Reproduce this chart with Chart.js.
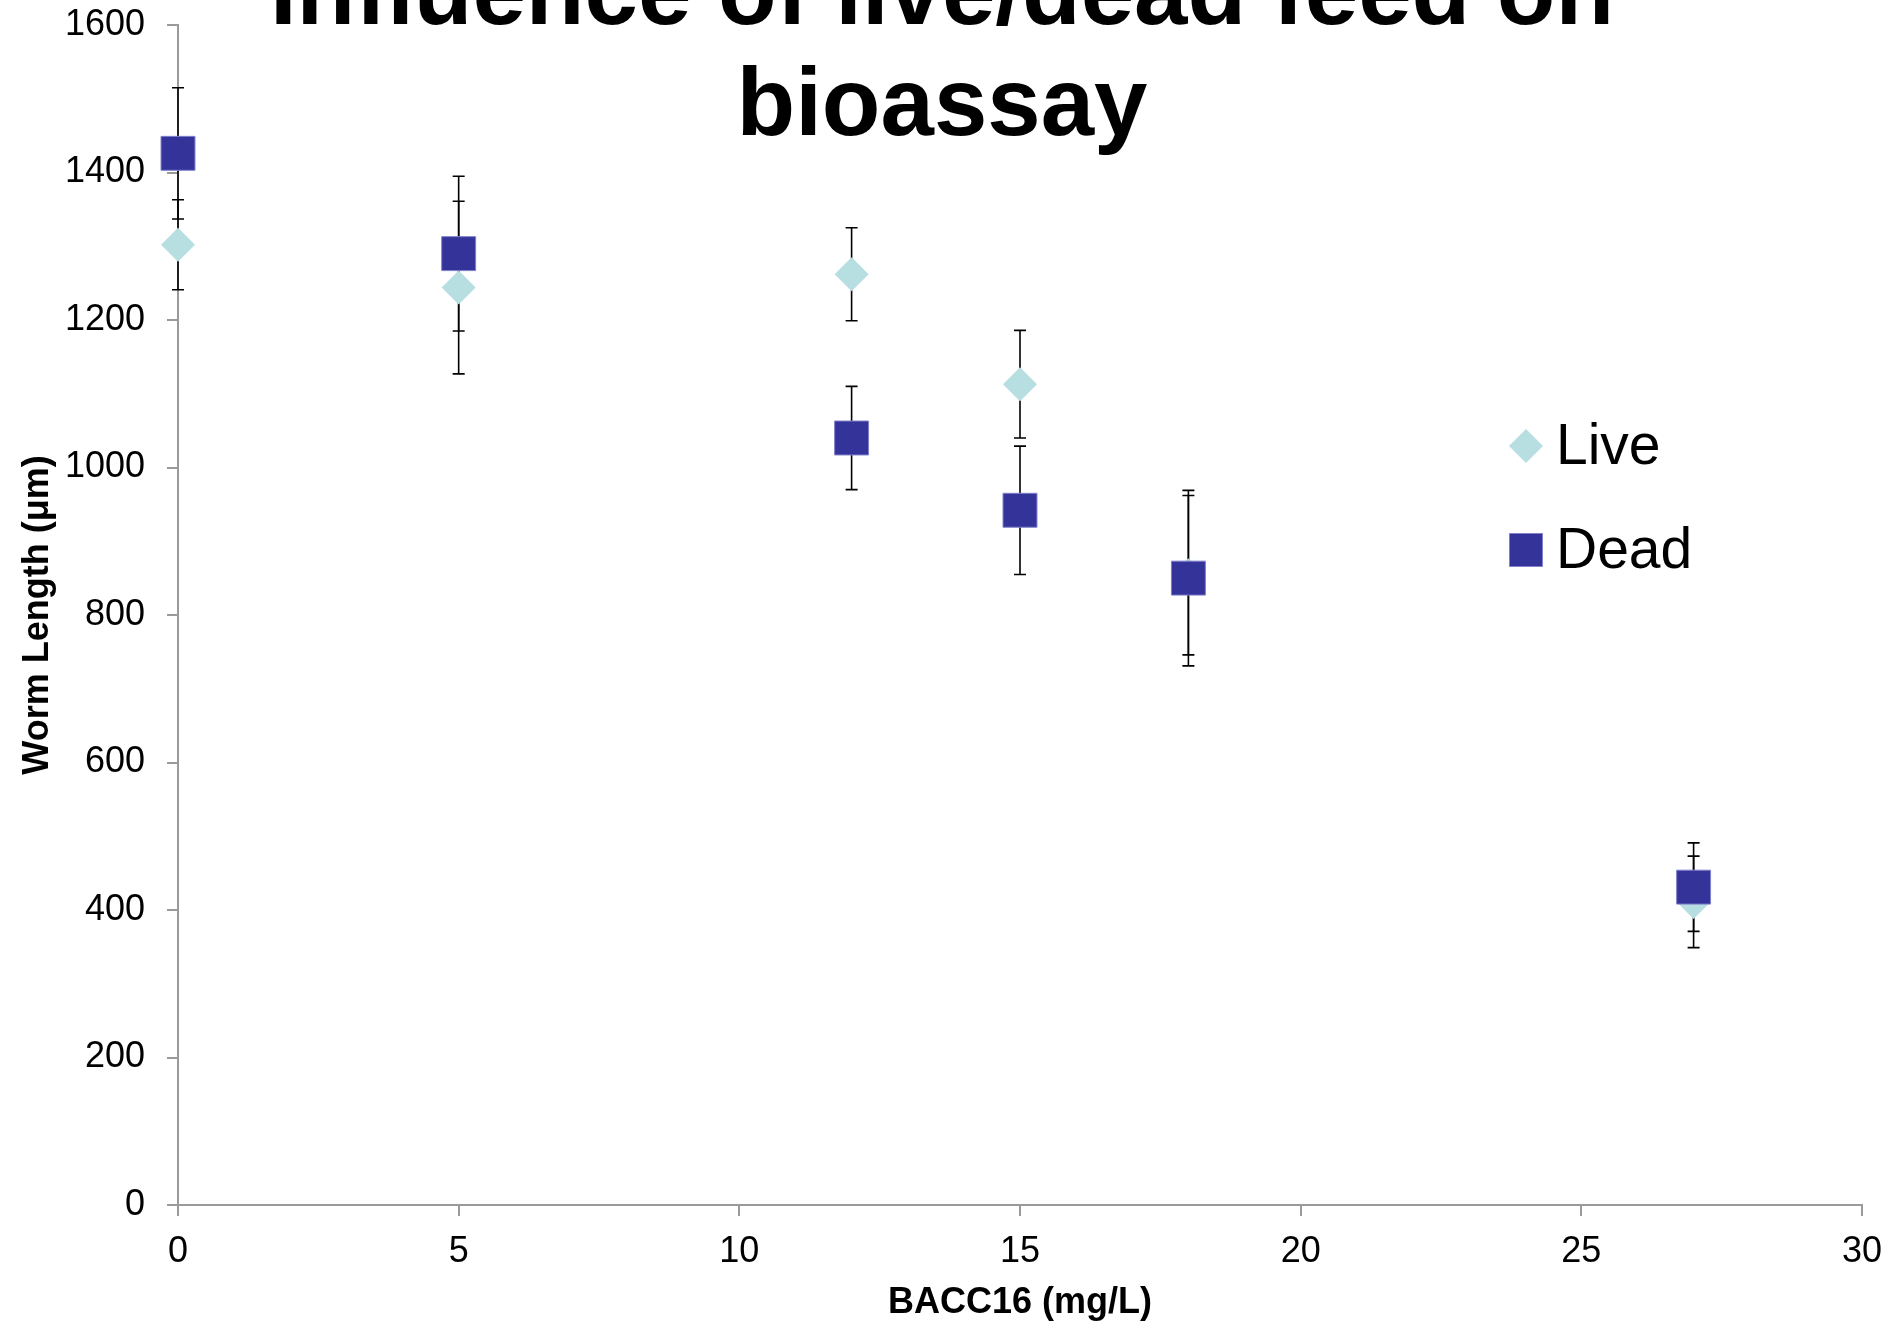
<!DOCTYPE html>
<html>
<head>
<meta charset="utf-8">
<script src="https://cdn.jsdelivr.net/npm/chart.js@4.4.1/dist/chart.umd.min.js"></script>
<style>
  html, body { margin: 0; padding: 0; background: #fff; }
  #wrap { width: 1889px; height: 1321px; }
</style>
</head>
<body>
<div id="wrap"><canvas id="chart" width="1889" height="1321"></canvas></div>
<script>
const concentrations = [0, 5, 12, 15, 18, 27];
const liveMean = [1302, 1244, 1262, 1113, 854, 411];
const liveErr = [61, 117, 63, 73, 108, 62];
const deadMean = [1426, 1290, 1040, 942, 850, 431];
const deadErr = [89, 105, 70, 87, 119, 60];
const seriesNames = ['Live', 'Dead'];
const titleLines = ['Influence of live/dead feed on', 'bioassay'];
const xTicks = [0, 5, 10, 15, 20, 25, 30];
const yTicks = [0, 200, 400, 600, 800, 1000, 1200, 1400, 1600];

const FONT = '"Liberation Sans", Arial, sans-serif';
const AXIS = '#9a9a9a';

// error bars go under the markers
const errorBars = {
  id: 'errorBars',
  beforeDatasetsDraw(chart) {
    const { ctx, scales: { x, y } } = chart;
    ctx.save();
    ctx.strokeStyle = '#000';
    ctx.lineWidth = 1.6;
    chart.data.datasets.forEach(ds => {
      ds.data.forEach((p, i) => {
        const px = x.getPixelForValue(p.x);
        const top = y.getPixelForValue(p.y + ds.errors[i]);
        const bot = y.getPixelForValue(p.y - ds.errors[i]);
        ctx.beginPath();
        ctx.moveTo(px, top); ctx.lineTo(px, bot);
        ctx.moveTo(px - 6, top); ctx.lineTo(px + 6, top);
        ctx.moveTo(px - 6, bot); ctx.lineTo(px + 6, bot);
        ctx.stroke();
      });
    });
    ctx.restore();
  }
};

// big title overlapping the plot, and the legend sitting inside it
const overlay = {
  id: 'overlay',
  afterDraw(chart) {
    const ctx = chart.ctx;
    ctx.save();
    ctx.fillStyle = '#000';
    ctx.textAlign = 'center';
    ctx.textBaseline = 'alphabetic';
    ctx.font = 'bold 96px ' + FONT;
    ctx.fillText(titleLines[0], 942, 24);
    ctx.fillText(titleLines[1], 942, 135);

    ctx.textAlign = 'left';
    ctx.font = '57px ' + FONT;
    chart.data.datasets.forEach((ds, i) => {
      const cx = 1526, cy = 446 + i * 104;
      ctx.fillStyle = ds.backgroundColor;
      ctx.beginPath();
      if (ds.pointStyle === 'rectRot') {
        ctx.moveTo(cx - 17, cy); ctx.lineTo(cx, cy - 17);
        ctx.lineTo(cx + 17, cy); ctx.lineTo(cx, cy + 17);
        ctx.closePath();
        ctx.fill();
      } else {
        ctx.rect(cx - 16.5, cy - 16.5, 33, 33);
        ctx.fill();
        ctx.strokeStyle = ds.borderColor;
        ctx.lineWidth = 1;
        ctx.stroke();
      }
      ctx.fillStyle = '#000';
      ctx.fillText(ds.label, 1556, cy + 18);
    });
    ctx.restore();
  }
};

new Chart(document.getElementById('chart'), {
  type: 'scatter',
  data: {
    datasets: [
      {
        label: seriesNames[0],
        data: concentrations.map((c, i) => ({ x: c, y: liveMean[i] })),
        errors: liveErr,
        order: 1,
        pointStyle: 'rectRot',
        pointRadius: 17,
        pointHoverRadius: 17,
        backgroundColor: '#B7DEE1',
        borderColor: '#B7DEE1',
        borderWidth: 0,
        clip: false
      },
      {
        label: seriesNames[1],
        data: concentrations.map((c, i) => ({ x: c, y: deadMean[i] })),
        errors: deadErr,
        order: 0, // dead squares sit on top of the live diamonds
        pointStyle: 'rect',
        pointRadius: 24,
        pointHoverRadius: 24,
        backgroundColor: '#333399',
        borderColor: '#8080cc',
        borderWidth: 1,
        clip: false
      }
    ]
  },
  options: {
    responsive: false,
    animation: false,
    events: [],
    layout: { padding: { top: 23, right: 27, left: 0, bottom: 0 } },
    plugins: {
      legend: { display: false },
      title: { display: false },
      tooltip: { enabled: false }
    },
    scales: {
      x: {
        type: 'linear',
        min: 0, max: 30,
        afterBuildTicks: s => { s.ticks = xTicks.map(v => ({ value: v })); },
        afterFit: s => { s.height = 116; s.paddingLeft = 0; s.paddingRight = 0; },
        border: { color: AXIS, width: 2 },
        grid: { drawOnChartArea: false, color: AXIS, lineWidth: 2, tickLength: 11 },
        ticks: {
          color: '#000', padding: 14, maxRotation: 0,
          font: { family: FONT, size: 36 },
          callback: v => String(v)
        },
        title: {
          display: true, text: 'BACC16 (mg/L)', color: '#000',
          padding: { top: 0, bottom: 0 },
          font: { family: FONT, size: 36, weight: 'bold', lineHeight: 1 }
        }
      },
      y: {
        min: 0, max: 1600,
        afterBuildTicks: s => { s.ticks = yTicks.map(v => ({ value: v })); },
        afterFit: s => { s.width = 178; s.paddingTop = 0; s.paddingBottom = 0; },
        border: { color: AXIS, width: 2 },
        grid: { drawOnChartArea: false, color: AXIS, lineWidth: 2, tickLength: 11 },
        ticks: {
          color: '#000', padding: 22,
          font: { family: FONT, size: 36 },
          callback: v => String(v)
        },
        title: {
          display: true, text: 'Worm Length (μm)', color: '#000',
          padding: { top: 16, bottom: 0 },
          font: { family: FONT, size: 36, weight: 'bold' }
        }
      }
    }
  },
  plugins: [errorBars, overlay]
});
</script>
</body>
</html>
